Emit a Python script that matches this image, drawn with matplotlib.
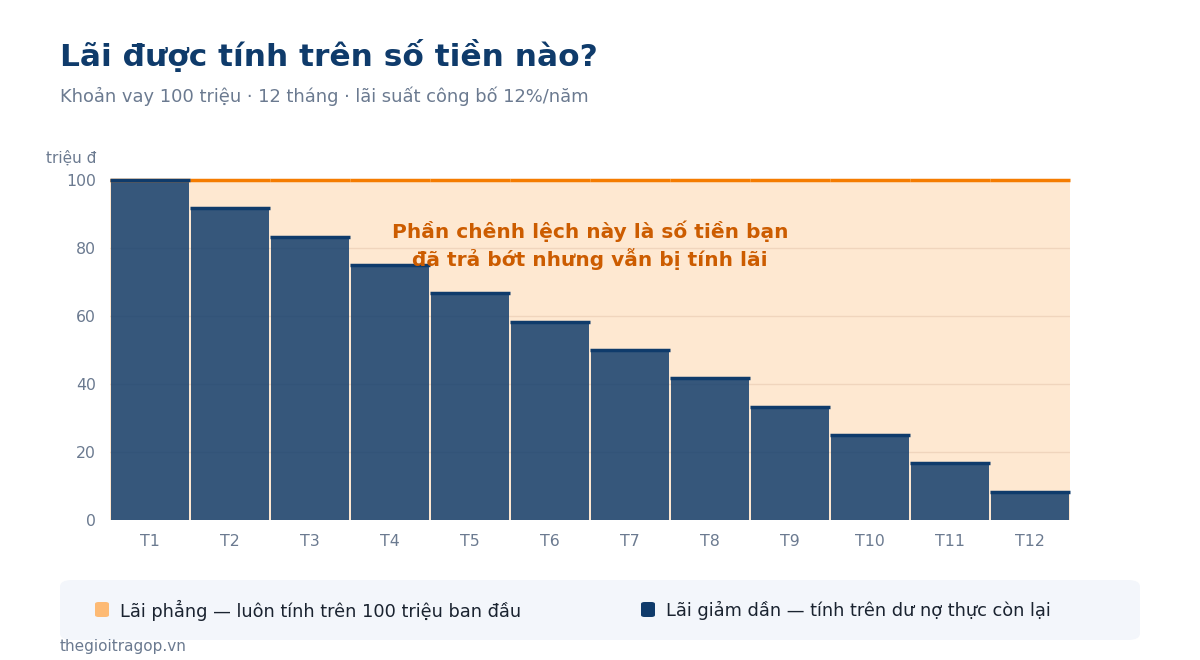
import matplotlib
matplotlib.use("Agg")
import matplotlib.pyplot as plt
from matplotlib.patches import FancyBboxPatch

months = ["T1", "T2", "T3", "T4", "T5", "T6", "T7", "T8", "T9", "T10", "T11", "T12"]
flat_base = [100] * 12
declining_base = [100, 91.67, 83.33, 75, 66.67, 58.33, 50, 41.67, 33.33, 25, 16.67, 8.33]
yticks = [0, 20, 40, 60, 80, 100]

NAVY = "#0f3b6b"
ORANGE = "#f57c00"
ORANGE_LIGHT = "#fdba74"
GRAY = "#6b7a90"

plt.rcParams['font.family'] = ['DejaVu Sans']
fig = plt.figure(figsize=(12, 6.6), dpi=100)
ax = fig.add_axes([110/1200, 1-520/660, 960/1200, 340/660])

x = list(range(len(months)))
ax.bar(x, flat_base, width=1.0, color=ORANGE_LIGHT, alpha=0.33, linewidth=0, zorder=1)
ax.hlines(flat_base, [i-0.5 for i in x], [i+0.5 for i in x], color=ORANGE, lw=2.5, zorder=4, clip_on=False)
ax.bar(x, declining_base, width=0.97, color=NAVY, alpha=0.84, linewidth=0, zorder=2)
ax.hlines(declining_base, [i-0.5 for i in x], [i+0.5 for i in x], color=NAVY, lw=2.5, zorder=5, clip_on=False)

for yv in yticks[1:-1]:
    ax.axhline(yv, color="#e8c9b0", lw=1, alpha=0.6, zorder=1.5)

ax.set_xlim(-0.5, len(months)-0.5)
ax.set_ylim(0, 100)
ax.set_xticks(x)
ax.set_xticklabels(months)
ax.set_yticks(yticks)
ax.tick_params(axis='both', length=0, labelsize=11.3, labelcolor=GRAY)
ax.tick_params(axis='x', pad=10)
ax.tick_params(axis='y', pad=10)
for s in ax.spines.values():
    s.set_visible(False)

ax.text(5.5, 80.8, "Phần chênh lệch này là số tiền bạn\nđã trả bớt nhưng vẫn bị tính lãi",
        ha='center', va='center', fontsize=14.5, fontweight='bold', color="#cc5c00",
        linespacing=1.3, zorder=6)

fig.text(46/1200, 1-158/660, "triệu đ", fontsize=11, color=GRAY, ha='left', va='center')

fig.text(60/1200, 1-55/660, "Lãi được tính trên số tiền nào?", fontsize=22.5, fontweight='bold',
         color=NAVY, ha='left', va='center')
fig.text(60/1200, 1-96/660, "Khoản vay 100 triệu · 12 tháng · lãi suất công bố 12%/năm",
         fontsize=12.9, color=GRAY, ha='left', va='center')

box = FancyBboxPatch((60/1200, 1-640/660), 1080/1200, 60/660,
                     boxstyle="round,pad=0,rounding_size=0.01", transform=fig.transFigure,
                     facecolor="#f3f6fb", edgecolor="none")
fig.patches.append(box)

def swatch(xp, color):
    p = FancyBboxPatch((xp/1200, 1-617/660), 14/1200, 15/660,
                       boxstyle="round,pad=0,rounding_size=0.003", transform=fig.transFigure,
                       facecolor=color, edgecolor="none")
    fig.patches.append(p)

swatch(95, ORANGE_LIGHT)
fig.text(120/1200, 1-610/660, "Lãi phẳng — luôn tính trên 100 triệu ban đầu", fontsize=12.8,
         color="#1a2330", ha='left', va='center')
swatch(641, NAVY)
fig.text(666/1200, 1-610/660, "Lãi giảm dần — tính trên dư nợ thực còn lại", fontsize=12.8,
         color="#1a2330", ha='left', va='center')

fig.text(60/1200, 1-647/660, "thegioitragop.vn", fontsize=11, color=GRAY, ha='left', va='center')

fig.savefig("out.png", dpi=100)
